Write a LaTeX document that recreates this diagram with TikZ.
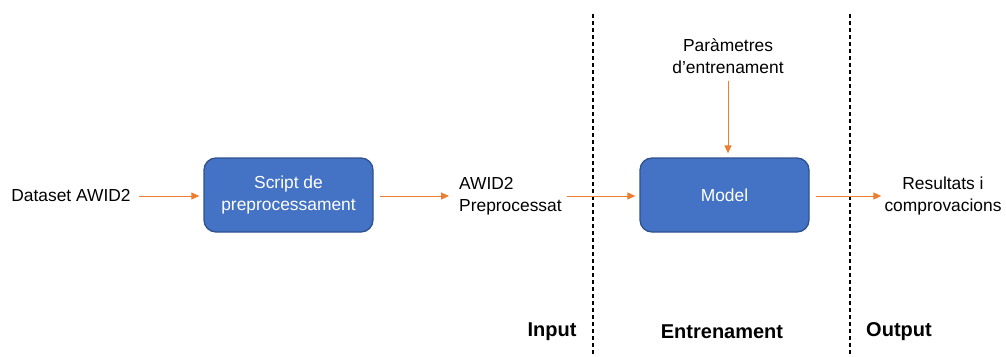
\documentclass[tikz,border=0pt]{standalone}
\usepackage{fontspec}
\setmainfont{Liberation Sans}
\usetikzlibrary{arrows.meta}
\definecolor{boxfill}{HTML}{4472C4}
\definecolor{boxline}{HTML}{2F528F}
\definecolor{arr}{HTML}{ED7D31}
\tikzset{
  procbox/.style={draw=boxline, line width=1.3pt, fill=boxfill, rounded corners=12pt,
    minimum width=169pt, minimum height=74pt, text=white, align=center, inner sep=0pt,
    font=\fontsize{17.4}{22}\selectfont},
  lbl/.style={inner sep=0pt, align=center, font=\fontsize{17.4}{22}\selectfont},
  sect/.style={inner sep=0pt, font=\bfseries\fontsize{20}{24}\selectfont},
  flow/.style={draw=arr, line width=1pt, -{Triangle[length=8pt,width=7pt]}},
  divider/.style={draw=black, line width=1.2pt, dash pattern=on 4pt off 3pt}
}
\begin{document}
\begin{tikzpicture}[x=1pt,y=-1pt]
\useasboundingbox (0,0) rectangle (1006,356);
\node[lbl] (ds) at (71,196) {Dataset AWID2};
\node[procbox] (script) at (288.5,195) {Script de\\preprocessament};
\node[lbl, anchor=west, align=left] (pre) at (459,196) {AWID2\\Preprocessat};
\node[procbox] (model) at (724.5,195) {Model};
\node[lbl] (par) at (728,56) {Paràmetres\\d’entrenament};
\node[lbl] (res) at (943,196) {Resultats i\\comprovacions};
\node[sect] (in) at (552,332) {Input};
\node[sect] (ent) at (722,332) {Entrenament};
\node[sect] (out) at (899,332) {Output};
\coordinate (d1t) at (593,14);
\coordinate (d1b) at (593,356);
\coordinate (d2t) at (850,14);
\coordinate (d2b) at (850,356);
\draw[divider] (d1t) -- (d1b);
\draw[divider] (d2t) -- (d2b);
\draw[flow, shorten <=8pt, shorten >=4pt] (ds.east) -- (ds.east -| script.west);
\draw[flow, shorten <=6pt, shorten >=10pt] (script.east |- pre.west) -- (pre.west);
\draw[flow, shorten <=5pt, shorten >=4pt] (pre.east) -- (pre.east -| model.west);
\draw[flow, shorten <=7pt, shorten >=4pt] (par.south) -- (par.south |- model.north);
\draw[flow, shorten <=6pt, shorten >=3pt] (model.east |- res.west) -- (res.west);
\end{tikzpicture}
\end{document}
